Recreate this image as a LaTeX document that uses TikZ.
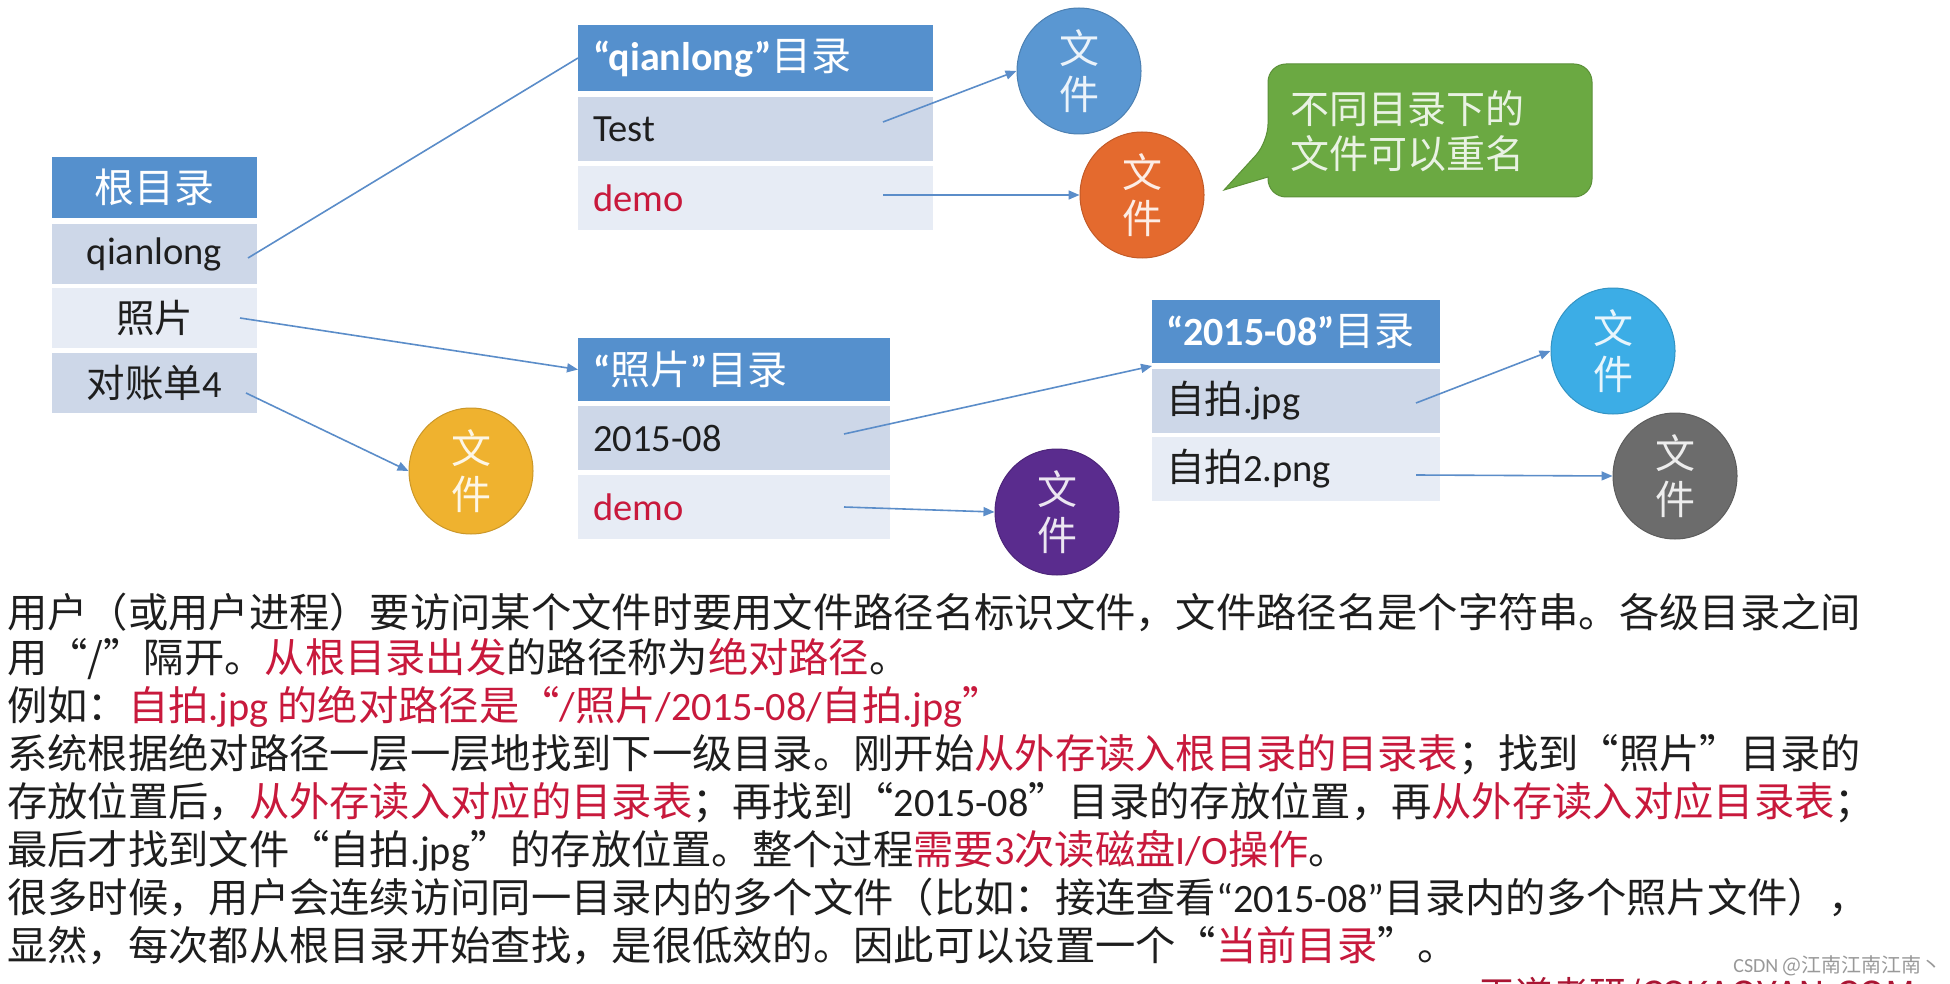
\documentclass[tikz,border=0pt]{standalone}
\usepackage{fontspec}
\setmainfont{Noto Sans CJK SC}
\newfontfamily\lat{Carlito}
\usetikzlibrary{arrows.meta,shapes.geometric}
\definecolor{hdr}{HTML}{5590CD}
\definecolor{rowA}{HTML}{CDD7E8}
\definecolor{rowB}{HTML}{E7ECF5}
\definecolor{redt}{HTML}{C8193C}
\definecolor{lnk}{HTML}{5B8DC9}
\definecolor{cBlue}{HTML}{5A97D2}
\definecolor{cOrange}{HTML}{E46A2E}
\definecolor{cYellow}{HTML}{EFB22F}
\definecolor{cPurple}{HTML}{5A2C8E}
\definecolor{cCyan}{HTML}{3CADE6}
\definecolor{cGrey}{HTML}{6C6C6C}
\definecolor{cGreen}{HTML}{6BA942}
\definecolor{txt}{HTML}{1E1E1E}
\newcommand{\redtxt}[1]{\textcolor{redt}{#1}}
\newcommand{\latb}[1]{{\lat\bfseries #1}}
\tikzset{
  cellbase/.style={inner ysep=0pt, outer sep=0pt, text=txt,
     font=\fontsize{38.5}{44}\selectfont},
  hdrcell/.style={cellbase, fill=hdr, text=white, font=\fontsize{40}{44}\selectfont},
  cellA/.style={cellbase, fill=rowA},
  cellB/.style={cellbase, fill=rowB},
  filecirc/.style={ellipse, minimum width=124pt, minimum height=126pt, inner sep=0pt,
     fill=#1, draw=#1!85!black, line width=1pt, align=center,
     text=white!88!#1, font=\fontsize{40}{46}\selectfont},
  lnkline/.style={draw=lnk, line width=1.6pt},
  lnkarrow/.style={lnkline, -{Triangle[length=11pt,width=9pt]}},
  para/.style={anchor=base west, inner sep=0pt, text=txt, font=\fontsize{40.3}{48}\selectfont}
}
\begin{document}
\begin{tikzpicture}[x=1pt,y=-1pt]
\useasboundingbox[fill=white] (0,0) rectangle (1950,984);

% root table
\node[hdrcell, minimum width=205pt, minimum height=61pt] (rh) at (154.5,187.5) {根目录};
\node[cellA, minimum width=205pt, minimum height=60pt] (rq) at (154.5,254) {\lat qianlong};
\node[cellB, minimum width=205pt, minimum height=60pt] (rp) at (154.5,318) {照片};
\node[cellA, minimum width=205pt, minimum height=60pt] (rd) at (154.5,383) {对账单{\lat 4}};

% qianlong table
\node[hdrcell, text width=325pt, inner xsep=15pt, minimum height=66pt, align=left] (qh) at (755.5,58) {\latb{“qianlong”}目录};
\node[cellA, text width=325pt, inner xsep=15pt, minimum height=64pt, align=left] (qt) at (755.5,129) {\lat Test};
\node[cellB, text width=325pt, inner xsep=15pt, minimum height=64pt, align=left] (qd) at (755.5,198) {\lat\color{redt}demo};

% photo table
\node[hdrcell, text width=282pt, inner xsep=15pt, minimum height=63pt, align=left] (ph) at (734,369.5) {\latb{“}照片\latb{”}目录};
\node[cellA, text width=282pt, inner xsep=15pt, minimum height=64pt, align=left] (p1) at (734,438) {\lat 2015-08};
\node[cellB, text width=282pt, inner xsep=15pt, minimum height=64pt, align=left] (p2) at (734,507) {\lat\color{redt}demo};

% 2015-08 table
\node[hdrcell, text width=260pt, inner xsep=14pt, minimum height=63pt, align=left] (dh) at (1296,331.5) {\latb{“2015-08”}目录};
\node[cellA, text width=260pt, inner xsep=14pt, minimum height=64pt, align=left] (d1) at (1296,401) {自拍{\lat .jpg}};
\node[cellB, text width=260pt, inner xsep=14pt, minimum height=64pt, align=left] (d2) at (1296,469) {自拍{\lat 2.png}};

% file circles
\node[filecirc=cBlue] (fblue) at (1079,71) {文\\件};
\node[filecirc=cOrange] (forange) at (1142,195) {文\\件};
\node[filecirc=cYellow] (fyellow) at (471,471) {文\\件};
\node[filecirc=cPurple] (fpurple) at (1057,512) {文\\件};
\node[filecirc=cCyan] (fcyan) at (1613,351) {文\\件};
\node[filecirc=cGrey] (fgrey) at (1675,476) {文\\件};

% callout
\draw[fill=cGreen, draw=cGreen!85!black, line width=1pt]
  (1430,64) [rounded corners=18pt] -- (1268,64) -- (1268,142) [sharp corners] -- (1224,190) -- (1268,177)
  [rounded corners=18pt] -- (1268,197) -- (1592,197) -- (1592,64) -- cycle;
\node[anchor=west, align=left, inner sep=0pt, text=white!85!cGreen, font=\fontsize{39}{45}\selectfont] (note) at (1290,131) {不同目录下的\\文件可以重名};

% connectors
\draw[lnkline] ([xshift=-9pt,yshift=-4pt]rq.east) -- (qh.west);
\draw[lnkarrow] ([xshift=-17pt]rp.east) -- (ph.west);
\draw[lnkarrow] ([xshift=-11pt,yshift=-10pt]rd.east) -- (fyellow.west);
\draw[lnkarrow] ([xshift=-50pt,yshift=7pt]qt.east) -- (fblue.west);
\draw[lnkarrow] ([xshift=-50pt,yshift=3pt]qd.east) -- (forange.west);
\draw[lnkarrow] ([xshift=-46pt,yshift=4pt]p1.east) -- ([yshift=-3pt]dh.south west);
\draw[lnkarrow] ([xshift=-46pt]p2.east) -- (fpurple.west);
\draw[lnkarrow] ([xshift=-24pt,yshift=-2pt]d1.east) -- (fcyan.west);
\draw[lnkarrow] ([xshift=-24pt,yshift=-6pt]d2.east) -- (fgrey.west);

% paragraph
\node[para] (t1) at (7,627) {用户（或用户进程）要访问某个文件时要用文件路径名标识文件，文件路径名是个字符串。各级目录之间};
\node[para] (t2) at (7,672) {用“/”隔开。\redtxt{从根目录出发}的路径称为\redtxt{绝对路径}。};
\node[para] (t3) at (7,720) {例如：\redtxt{自拍{\lat .jpg} 的绝对路径是“{\lat /}照片{\lat /2015-08/}自拍{\lat .jpg}”}};
\node[para] (t4) at (7,768) {系统根据绝对路径一层一层地找到下一级目录。刚开始\redtxt{从外存读入根目录的目录表}；找到“照片”目录的};
\node[para] (t5) at (7,816) {存放位置后，\redtxt{从外存读入对应的目录表}；再找到“{\lat 2015-08}”目录的存放位置，再\redtxt{从外存读入对应目录表}；};
\node[para] (t6) at (7,864) {最后才找到文件“自拍{\lat .jpg}”的存放位置。整个过程\redtxt{需要{\lat 3}次读磁盘{\lat I/O}操作}。};
\node[para] (t7) at (7,912) {很多时候，用户会连续访问同一目录内的多个文件（比如：接连查看{\lat “2015-08”}目录内的多个照片文件），};
\node[para] (t8) at (7,960) {显然，每次都从根目录开始查找，是很低效的。因此可以设置一个“\redtxt{当前目录}”。};

% watermark and cut-off footer
\node[anchor=base east, inner sep=0pt, text=black!40, font=\fontsize{20}{22}\selectfont] (wm) at (1942,972) {{\lat CSDN} @江南江南江南丶};
\node[anchor=base west, inner sep=0pt, text=redt!85!black, font=\fontsize{37}{40}\selectfont] (foot) at (1478,1008) {王道考研/CSKAOYAN.COM};
\end{tikzpicture}
\end{document}
